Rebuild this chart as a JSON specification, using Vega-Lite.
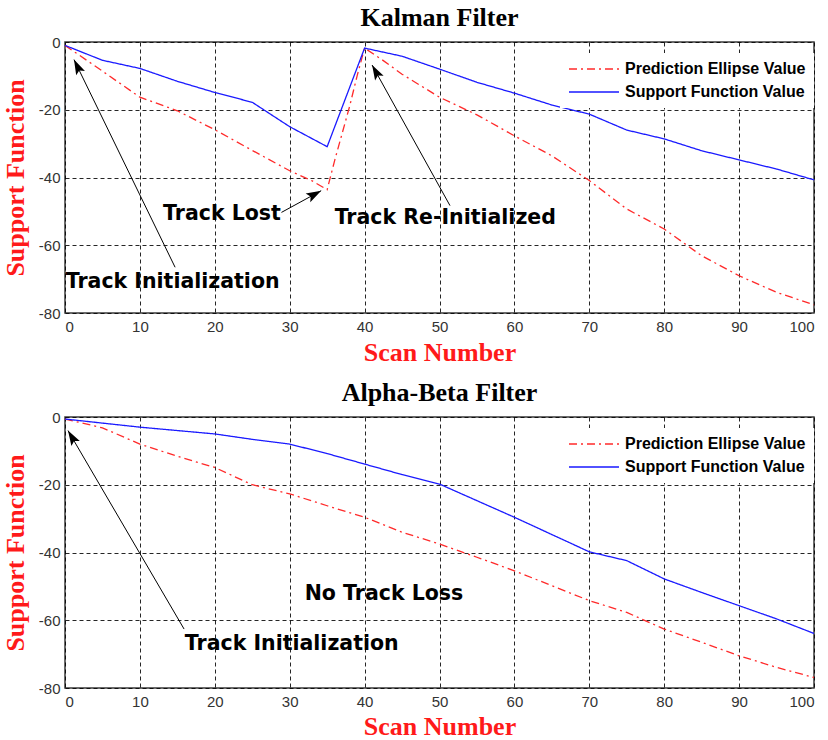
{
  "$schema": "https://vega.github.io/schema/vega-lite/v6.json",
  "background": "white",
  "padding": {"left": 1, "top": 4, "right": 0, "bottom": 0},
  "spacing": 13,
  "datasets": {
    "kalman": [
      {"series": "Prediction Ellipse Value", "scan": 0, "value": -1},
      {"series": "Prediction Ellipse Value", "scan": 5, "value": -8.6},
      {"series": "Prediction Ellipse Value", "scan": 10, "value": -16.3},
      {"series": "Prediction Ellipse Value", "scan": 15, "value": -20.3},
      {"series": "Prediction Ellipse Value", "scan": 20, "value": -25.9},
      {"series": "Prediction Ellipse Value", "scan": 25, "value": -32},
      {"series": "Prediction Ellipse Value", "scan": 30, "value": -38},
      {"series": "Prediction Ellipse Value", "scan": 33, "value": -41},
      {"series": "Prediction Ellipse Value", "scan": 35, "value": -43.6},
      {"series": "Prediction Ellipse Value", "scan": 36, "value": -35},
      {"series": "Prediction Ellipse Value", "scan": 37, "value": -27},
      {"series": "Prediction Ellipse Value", "scan": 38, "value": -19},
      {"series": "Prediction Ellipse Value", "scan": 39, "value": -10},
      {"series": "Prediction Ellipse Value", "scan": 40, "value": -1.8},
      {"series": "Prediction Ellipse Value", "scan": 42.5, "value": -5.5},
      {"series": "Prediction Ellipse Value", "scan": 45, "value": -9.5},
      {"series": "Prediction Ellipse Value", "scan": 50, "value": -16.3},
      {"series": "Prediction Ellipse Value", "scan": 55, "value": -21.5},
      {"series": "Prediction Ellipse Value", "scan": 60, "value": -27.7},
      {"series": "Prediction Ellipse Value", "scan": 65, "value": -33.6},
      {"series": "Prediction Ellipse Value", "scan": 70, "value": -40.9},
      {"series": "Prediction Ellipse Value", "scan": 75, "value": -49.3},
      {"series": "Prediction Ellipse Value", "scan": 80, "value": -55.2},
      {"series": "Prediction Ellipse Value", "scan": 85, "value": -63.1},
      {"series": "Prediction Ellipse Value", "scan": 90, "value": -69},
      {"series": "Prediction Ellipse Value", "scan": 95, "value": -73.9},
      {"series": "Prediction Ellipse Value", "scan": 100, "value": -77.6},
      {"series": "Support Function Value", "scan": 0, "value": -1},
      {"series": "Support Function Value", "scan": 5, "value": -5.4},
      {"series": "Support Function Value", "scan": 10, "value": -7.8},
      {"series": "Support Function Value", "scan": 15, "value": -11.6},
      {"series": "Support Function Value", "scan": 20, "value": -14.9},
      {"series": "Support Function Value", "scan": 25, "value": -17.8},
      {"series": "Support Function Value", "scan": 30, "value": -25},
      {"series": "Support Function Value", "scan": 35, "value": -30.9},
      {"series": "Support Function Value", "scan": 40, "value": -1.8},
      {"series": "Support Function Value", "scan": 45, "value": -4.2},
      {"series": "Support Function Value", "scan": 50, "value": -8},
      {"series": "Support Function Value", "scan": 55, "value": -11.9},
      {"series": "Support Function Value", "scan": 60, "value": -15.1},
      {"series": "Support Function Value", "scan": 65, "value": -18.6},
      {"series": "Support Function Value", "scan": 70, "value": -21.3},
      {"series": "Support Function Value", "scan": 75, "value": -26},
      {"series": "Support Function Value", "scan": 80, "value": -28.6},
      {"series": "Support Function Value", "scan": 85, "value": -32.1},
      {"series": "Support Function Value", "scan": 90, "value": -34.8},
      {"series": "Support Function Value", "scan": 95, "value": -37.5},
      {"series": "Support Function Value", "scan": 100, "value": -40.7}
    ],
    "alphabeta": [
      {"series": "Prediction Ellipse Value", "scan": 0, "value": -0.6},
      {"series": "Prediction Ellipse Value", "scan": 5, "value": -3.2},
      {"series": "Prediction Ellipse Value", "scan": 10, "value": -8},
      {"series": "Prediction Ellipse Value", "scan": 15, "value": -11.6},
      {"series": "Prediction Ellipse Value", "scan": 20, "value": -14.9},
      {"series": "Prediction Ellipse Value", "scan": 25, "value": -20},
      {"series": "Prediction Ellipse Value", "scan": 30, "value": -22.7},
      {"series": "Prediction Ellipse Value", "scan": 35, "value": -26.2},
      {"series": "Prediction Ellipse Value", "scan": 40, "value": -29.6},
      {"series": "Prediction Ellipse Value", "scan": 45, "value": -34},
      {"series": "Prediction Ellipse Value", "scan": 50, "value": -37.5},
      {"series": "Prediction Ellipse Value", "scan": 55, "value": -41.4},
      {"series": "Prediction Ellipse Value", "scan": 60, "value": -45.4},
      {"series": "Prediction Ellipse Value", "scan": 65, "value": -49.8},
      {"series": "Prediction Ellipse Value", "scan": 70, "value": -54.2},
      {"series": "Prediction Ellipse Value", "scan": 75, "value": -57.7},
      {"series": "Prediction Ellipse Value", "scan": 80, "value": -62.6},
      {"series": "Prediction Ellipse Value", "scan": 85, "value": -66.5},
      {"series": "Prediction Ellipse Value", "scan": 90, "value": -70.5},
      {"series": "Prediction Ellipse Value", "scan": 95, "value": -73.9},
      {"series": "Prediction Ellipse Value", "scan": 100, "value": -76.9},
      {"series": "Support Function Value", "scan": 0, "value": -0.6},
      {"series": "Support Function Value", "scan": 5, "value": -1.8},
      {"series": "Support Function Value", "scan": 10, "value": -3},
      {"series": "Support Function Value", "scan": 15, "value": -4},
      {"series": "Support Function Value", "scan": 20, "value": -5},
      {"series": "Support Function Value", "scan": 25, "value": -6.6},
      {"series": "Support Function Value", "scan": 30, "value": -8},
      {"series": "Support Function Value", "scan": 35, "value": -10.8},
      {"series": "Support Function Value", "scan": 40, "value": -13.9},
      {"series": "Support Function Value", "scan": 45, "value": -17},
      {"series": "Support Function Value", "scan": 50, "value": -19.8},
      {"series": "Support Function Value", "scan": 55, "value": -24.7},
      {"series": "Support Function Value", "scan": 60, "value": -29.6},
      {"series": "Support Function Value", "scan": 65, "value": -34.7},
      {"series": "Support Function Value", "scan": 70, "value": -39.8},
      {"series": "Support Function Value", "scan": 75, "value": -42.4},
      {"series": "Support Function Value", "scan": 80, "value": -47.8},
      {"series": "Support Function Value", "scan": 85, "value": -51.8},
      {"series": "Support Function Value", "scan": 90, "value": -55.7},
      {"series": "Support Function Value", "scan": 95, "value": -59.6},
      {"series": "Support Function Value", "scan": 100, "value": -63.9}
    ],
    "kalman_notes": [
      {"label": "Track Initialization", "scan": 0.1, "value": -70.8},
      {"label": "Track Lost", "scan": 13.1, "value": -50.8},
      {"label": "Track Re-Initialized", "scan": 36, "value": -52}
    ],
    "alphabeta_notes": [
      {"label": "No Track Loss", "scan": 32, "value": -52.3},
      {"label": "Track Initialization", "scan": 16, "value": -67}
    ],
    "kalman_arrows": [
      {"id": 1, "scan": 14.7, "value": -66.5, "headScan": 1.2, "headValue": -5.2},
      {"id": 2, "scan": 28.9, "value": -50.3, "headScan": 34.2, "headValue": -43.9},
      {"id": 3, "scan": 51.4, "value": -48.3, "headScan": 41, "headValue": -6.8}
    ],
    "alphabeta_arrows": [
      {"id": 1, "scan": 15.9, "value": -62.6, "headScan": 0.4, "headValue": -4}
    ]
  },
  "config": {
    "view": {"stroke": "#3a3a3a", "strokeWidth": 1.5},
    "axis": {
      "labelFont": "Liberation Sans",
      "labelFontSize": 15,
      "labelColor": "#333333",
      "grid": true,
      "gridColor": "#000000",
      "gridDash": [4, 3],
      "gridOpacity": 0.85,
      "gridWidth": 1,
      "domain": false,
      "ticks": false,
      "titleFont": "Liberation Serif",
      "titleFontSize": 26,
      "titleFontWeight": "bold",
      "titleColor": "#ff1a1a"
    },
    "title": {"font": "Liberation Serif", "fontSize": 26, "fontWeight": "bold", "color": "#000000", "offset": 4},
    "legend": {
      "symbolType": "stroke",
      "symbolSize": 2500,
      "symbolStrokeWidth": 1.3,
      "clipHeight": 16,
      "rowPadding": 7,
      "labelFont": "Liberation Sans",
      "labelFontSize": 16,
      "labelFontWeight": "bold",
      "labelColor": "#000000",
      "labelOffset": 5,
      "labelLimit": 400,
      "fillColor": "white",
      "padding": 8
    }
  },
  "vconcat": [
    {
      "title": {"text": "Kalman Filter"},
      "width": 749,
      "height": 271,
      "layer": [
        {
          "data": {"name": "kalman"},
          "mark": {"type": "line", "strokeWidth": 1.3},
          "encoding": {
            "x": {"field": "scan", "type": "quantitative", "scale": {"domain": [0, 100], "nice": false}, "axis": {"values": [0, 10, 20, 30, 40, 50, 60, 70, 80, 90, 100], "labelPadding": 6, "titlePadding": 5}, "title": "Scan Number"},
            "y": {"field": "value", "type": "quantitative", "scale": {"domain": [-80, 0], "nice": false, "zero": false}, "axis": {"values": [-80, -60, -40, -20, 0], "labelExpr": "datum.value + ''", "labelPadding": 5, "titlePadding": 10}, "title": "Support Function"},
            "color": {"field": "series", "type": "nominal", "scale": {"domain": ["Prediction Ellipse Value", "Support Function Value"], "range": ["#ff2a2a", "#1a1aff"]}, "legend": {"title": null, "orient": "none", "legendX": 495, "legendY": 11}},
            "strokeDash": {"field": "series", "type": "nominal", "scale": {"domain": ["Prediction Ellipse Value", "Support Function Value"], "range": [[8, 4, 2, 4], [1, 0]]}, "legend": {"title": null, "orient": "none", "legendX": 495, "legendY": 11}}
          }
        },
        {
          "data": {"name": "kalman_arrows"},
          "mark": {"type": "rule", "color": "#000000", "strokeWidth": 1},
          "encoding": {
            "x": {"field": "scan", "type": "quantitative"},
            "y": {"field": "value", "type": "quantitative"},
            "x2": {"field": "headScan"},
            "y2": {"field": "headValue"}
          }
        },
        {
          "data": {"name": "kalman_arrows"},
          "transform": [{"filter": "datum.id == 1"}],
          "mark": {"type": "point", "shape": "M0,0L-0.65,2L0,1.6L0.65,2Z", "filled": true, "size": 225, "angle": 334, "color": "#000000", "opacity": 1},
          "encoding": {"x": {"field": "headScan", "type": "quantitative"}, "y": {"field": "headValue", "type": "quantitative"}}
        },
        {
          "data": {"name": "kalman_arrows"},
          "transform": [{"filter": "datum.id == 2"}],
          "mark": {"type": "point", "shape": "M0,0L-0.65,2L0,1.6L0.65,2Z", "filled": true, "size": 225, "angle": 61.6, "color": "#000000", "opacity": 1},
          "encoding": {"x": {"field": "headScan", "type": "quantitative"}, "y": {"field": "headValue", "type": "quantitative"}}
        },
        {
          "data": {"name": "kalman_arrows"},
          "transform": [{"filter": "datum.id == 3"}],
          "mark": {"type": "point", "shape": "M0,0L-0.65,2L0,1.6L0.65,2Z", "filled": true, "size": 225, "angle": 331, "color": "#000000", "opacity": 1},
          "encoding": {"x": {"field": "headScan", "type": "quantitative"}, "y": {"field": "headValue", "type": "quantitative"}}
        },
        {
          "data": {"name": "kalman_notes"},
          "mark": {"type": "text", "align": "left", "baseline": "middle", "font": "DejaVu Sans", "fontWeight": "bold", "fontSize": 20.5, "color": "#000000"},
          "encoding": {
            "x": {"field": "scan", "type": "quantitative"},
            "y": {"field": "value", "type": "quantitative"},
            "text": {"field": "label"}
          }
        }
      ]
    },
    {
      "title": {"text": "Alpha-Beta Filter"},
      "width": 749,
      "height": 271,
      "layer": [
        {
          "data": {"name": "alphabeta"},
          "mark": {"type": "line", "strokeWidth": 1.3},
          "encoding": {
            "x": {"field": "scan", "type": "quantitative", "scale": {"domain": [0, 100], "nice": false}, "axis": {"values": [0, 10, 20, 30, 40, 50, 60, 70, 80, 90, 100], "labelPadding": 6, "titlePadding": 4}, "title": "Scan Number"},
            "y": {"field": "value", "type": "quantitative", "scale": {"domain": [-80, 0], "nice": false, "zero": false}, "axis": {"values": [-80, -60, -40, -20, 0], "labelExpr": "datum.value + ''", "labelPadding": 5, "titlePadding": 10}, "title": "Support Function"},
            "color": {"field": "series", "type": "nominal", "scale": {"domain": ["Prediction Ellipse Value", "Support Function Value"], "range": ["#ff2a2a", "#1a1aff"]}, "legend": {"title": null, "orient": "none", "legendX": 495, "legendY": 11}},
            "strokeDash": {"field": "series", "type": "nominal", "scale": {"domain": ["Prediction Ellipse Value", "Support Function Value"], "range": [[8, 4, 2, 4], [1, 0]]}, "legend": {"title": null, "orient": "none", "legendX": 495, "legendY": 11}}
          }
        },
        {
          "data": {"name": "alphabeta_arrows"},
          "mark": {"type": "rule", "color": "#000000", "strokeWidth": 1},
          "encoding": {
            "x": {"field": "scan", "type": "quantitative"},
            "y": {"field": "value", "type": "quantitative"},
            "x2": {"field": "headScan"},
            "y2": {"field": "headValue"}
          }
        },
        {
          "data": {"name": "alphabeta_arrows"},
          "mark": {"type": "point", "shape": "M0,0L-0.65,2L0,1.6L0.65,2Z", "filled": true, "size": 225, "angle": 329.5, "color": "#000000", "opacity": 1},
          "encoding": {"x": {"field": "headScan", "type": "quantitative"}, "y": {"field": "headValue", "type": "quantitative"}}
        },
        {
          "data": {"name": "alphabeta_notes"},
          "mark": {"type": "text", "align": "left", "baseline": "middle", "font": "DejaVu Sans", "fontWeight": "bold", "fontSize": 20.5, "color": "#000000"},
          "encoding": {
            "x": {"field": "scan", "type": "quantitative"},
            "y": {"field": "value", "type": "quantitative"},
            "text": {"field": "label"}
          }
        }
      ]
    }
  ],
  "resolve": {"legend": {"color": "independent", "strokeDash": "independent"}, "scale": {"color": "independent", "strokeDash": "independent"}}
}
